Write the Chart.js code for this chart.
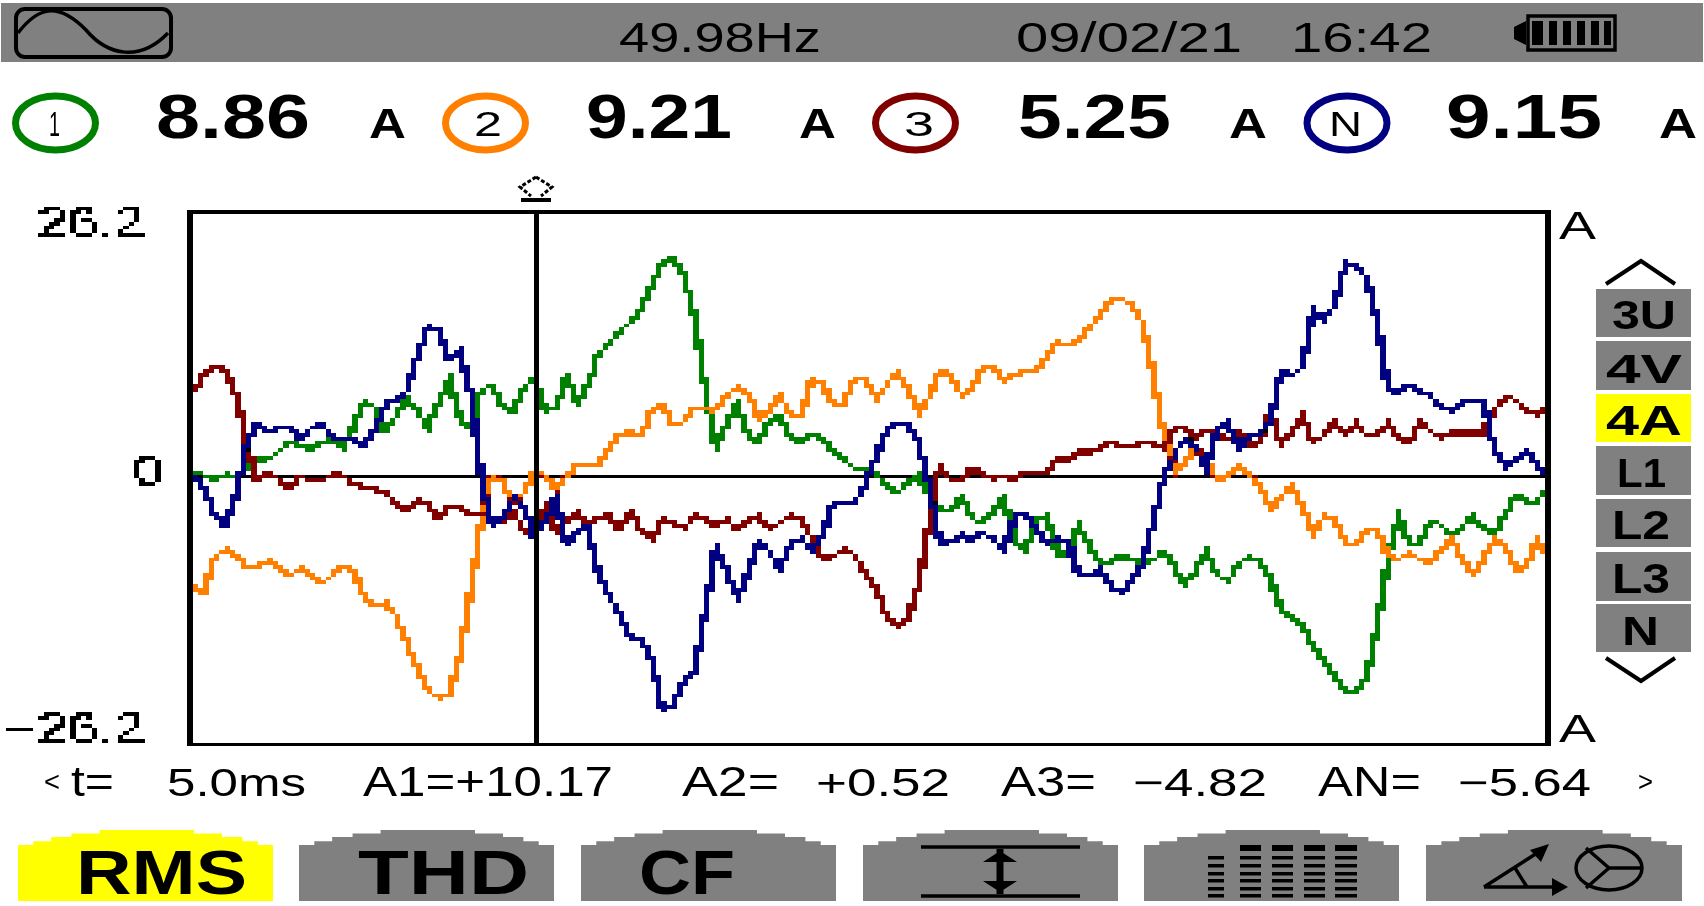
<!DOCTYPE html>
<html>
<head>
<meta charset="utf-8">
<title>Waveform 4A</title>
<script src="https://cdn.jsdelivr.net/npm/chart.js@4/dist/chart.umd.min.js"></script>
<style>
html, body { margin: 0; padding: 0; background: #fff; }
#page { position: relative; width: 1704px; height: 906px; overflow: hidden; }
#icons { position: absolute; left: 0; top: 0; }
/* the meter screen is 320x240, blown up without smoothing */
#scope { position: absolute; left: 1px; top: -1.3px; width: 1704px !important; height: 906px !important; image-rendering: pixelated; }
#topbar { position: absolute; left: 1px; top: 3px; width: 1702px; height: 59px; background: #808080; }
.tab, .btn { position: absolute; background: #808080; }
.btn { top: 830px; height: 71px; clip-path: polygon(0 21%, 6% 21%, 6% 16%, 13% 16%, 13% 10%, 21% 10%, 21% 5%, 32% 5%, 32% 0, 69% 0, 69% 5%, 80% 5%, 80% 10%, 88% 10%, 88% 16%, 94% 16%, 94% 21%, 100% 21%, 100% 100%, 0 100%); }
.on { background: #ffff00; }
.t { position: absolute; color: #000; font-family: "Liberation Sans", Arial, sans-serif; line-height: 1; white-space: pre; transform-origin: 0 0; }
</style>
</head>
<body>
<div id="page">
  <div id="topbar"></div>
  <div class="tab" style="left:1596px;top:289px;width:95px;height:48px"></div>
  <div class="tab" style="left:1596px;top:341px;width:95px;height:49px"></div>
  <div class="tab on" style="left:1596px;top:394px;width:95px;height:48px"></div>
  <div class="tab" style="left:1596px;top:446px;width:95px;height:49px"></div>
  <div class="tab" style="left:1596px;top:499px;width:95px;height:48px"></div>
  <div class="tab" style="left:1596px;top:552px;width:95px;height:49px"></div>
  <div class="tab" style="left:1596px;top:604px;width:95px;height:48px"></div>
  <div class="btn on" style="left:18px;width:255px"></div>
  <div class="btn" style="left:299px;width:255px"></div>
  <div class="btn" style="left:581px;width:255px"></div>
  <div class="btn" style="left:863px;width:255px"></div>
  <div class="btn" style="left:1144px;width:255px"></div>
  <div class="btn" style="left:1426px;width:256px"></div>
  <canvas id="scope" width="320" height="240"></canvas>
  <svg id="icons" width="1704" height="906" fill="none" stroke="#000">
    <!-- sine icon -->
    <rect x="16" y="9" width="155" height="48" rx="9" stroke-width="4"/>
    <path d="M18 33 C40 4 60 4 86 30 C108 56 140 62 168 33" stroke-width="3.5"/>
    <!-- battery -->
    <path d="M1528 16 H1615 V50 H1528 Z" stroke-width="3.5"/>
    <path d="M1514 27 L1526 21 V45 L1514 39 Z" fill="#000" stroke="none"/>
    <g fill="#000" stroke="none">
      <rect x="1532" y="21" width="11" height="24"/><rect x="1549" y="21" width="8" height="24"/>
      <rect x="1563" y="21" width="8" height="24"/><rect x="1577" y="21" width="8" height="24"/>
      <rect x="1591" y="21" width="8" height="24"/><rect x="1604" y="21" width="7" height="24"/>
    </g>
    <!-- channel rings -->
    <ellipse cx="55.5" cy="123" rx="40" ry="27" stroke="#008000" stroke-width="7"/>
    <ellipse cx="485.5" cy="123" rx="40" ry="27" stroke="#ff8000" stroke-width="7"/>
    <ellipse cx="915.5" cy="123" rx="40" ry="27" stroke="#800000" stroke-width="7"/>
    <ellipse cx="1347" cy="123" rx="40" ry="27" stroke="#000080" stroke-width="7"/>
    <!-- cursor marker -->
    <path d="M536 177 L552 187 L541 196 M536 177 L520 187 L531 196" stroke-width="3" stroke-dasharray="4 2"/>
    <rect x="521" y="198" width="30" height="4" fill="#000" stroke="none"/>
    <!-- tab arrows -->
    <path d="M1606 284 L1641 261 L1675 284" stroke-width="4"/>
    <path d="M1606 658 L1641 681 L1675 658" stroke-width="4"/>
    <!-- scale button -->
    <path d="M921 847 H1080 M921 896 H1080" stroke-width="3.5"/>
    <path d="M1000 849 V894" stroke-width="7"/>
    <path d="M1000 851 L1017 862 H983 Z M1000 892 L1017 881 H983 Z" fill="#000" stroke="none"/>
    <!-- bars button -->
    <g id="barsIcon" fill="#000" stroke="none"></g>
    <!-- phase button -->
    <path d="M1484 887 H1562 M1484 887 L1545 848 M1515 868 L1527 887" stroke-width="3.5"/>
    <path d="M1568 887 L1552 878 V896 Z M1549 844 L1530 850 L1541 862 Z" fill="#000" stroke="none"/>
    <ellipse cx="1609" cy="868" rx="33" ry="22" stroke-width="3.5"/>
    <path d="M1609 868 H1643 M1609 868 L1586 848 M1609 868 L1586 888" stroke-width="3.5"/>
  </svg>
</div>
<script>
// amps, one value every second column of the meter screen
const currentL1 = [
  0.7,0.35,-0.2,0.35,0.3,0.8,1.75,1.9,2.6,3.6,
  3.3,2.7,3.5,3.8,3.0,4.9,7.5,7.0,4.6,6.0,
  7.9,6.7,4.9,7.6,9.8,6.0,4.7,8.8,9.1,7.2,
  6.5,8.8,10.0,6.7,6.8,10.0,7.4,9.1,12.3,13.3,
  14.4,15.4,16.7,18.9,21.2,21.8,20.0,15.8,8.8,3.2,
  5.3,7.4,4.2,3.5,5.8,6.1,3.9,3.5,4.4,4.0,
  2.6,1.8,1.0,0.8,0.5,-0.7,-1.4,-0.5,0.35,-1.8,
  -3.1,-3.1,-1.8,-3.9,-4.4,-3.2,-1.9,-6.0,-7.2,-4.2,
  -3.7,-7.4,-7.4,-4.6,-6.5,-8.4,-8.2,-7.7,-7.9,-8.4,
  -8.1,-7.2,-8.8,-10.5,-9.1,-7.2,-9.5,-10.2,-8.4,-7.7,
  -8.1,-9.8,-13.0,-13.7,-14.4,-16.5,-18.1,-19.6,-20.9,-21.1,
  -19.6,-14.4,-8.1,-3.7,-6.3,-6.5,-4.2,-4.6,-5.6,-4.7,
  -3.7,-5.1,-5.3,-3.5,-1.6,-2.3,-2.3,-0.7
];
const currentL2 = [
  -10.4,-11.4,-7.7,-7.0,-7.5,-8.8,-8.8,-8.1,-8.8,-9.5,
  -8.9,-9.5,-10.4,-9.6,-8.6,-8.9,-11.6,-12.5,-12.2,-13.5,
  -16.1,-18.6,-20.9,-21.6,-21.2,-17.5,-11.2,-4.2,0.2,-0.2,
  -2.5,-1.4,0.7,0.35,-1.05,0.2,1.4,1.2,1.2,3.0,
  4.4,4.5,4.2,6.7,7.3,5.3,5.6,6.9,6.8,6.7,
  8.2,9.1,8.4,5.9,6.7,8.1,6.3,6.1,9.8,9.3,
  7.2,7.4,9.9,9.8,7.9,9.1,10.6,8.8,6.4,8.1,
  10.6,10.2,8.2,8.8,10.9,11.1,9.6,10.2,10.6,10.6,
  11.9,13.3,13.2,13.6,14.9,16.2,17.4,17.7,17.1,15.3,
  10.2,4.2,0.5,1.4,3.0,1.75,-0.25,0.35,1.2,0.3,
  -0.7,-3.0,-1.75,-0.7,-2.8,-5.4,-3.7,-4.0,-6.3,-6.6,
  -4.9,-5.1,-7.7,-8.0,-7.4,-7.9,-8.4,-7.0,-6.0,-8.1,
  -9.4,-7.9,-6.0,-6.5,-9.1,-8.8,-6.0,-7.7
];
const currentL3 = [
  8.4,10.2,11.1,10.7,8.4,3.5,-0.2,0.5,0,-1.05,
  0.2,-0.2,-0.3,0.35,0.35,-0.5,-0.9,-1.1,-1.4,-2.6,
  -3.2,-2.1,-2.5,-4.0,-2.7,-2.7,-3.6,-3.3,-4.2,-4.4,
  -3.3,-5.3,-5.4,-2.8,-5.3,-4.2,-3.3,-4.7,-3.9,-3.7,
  -5.1,-3.3,-5.1,-6.1,-4.1,-4.4,-4.9,-3.7,-4.1,-4.6,
  -4.0,-5.1,-4.0,-3.7,-4.9,-4.4,-3.7,-4.0,-5.8,-8.1,
  -7.7,-7.0,-7.5,-9.5,-10.9,-13.5,-14.7,-13.9,-10.4,-4.4,
  1.2,-0.2,-0.35,1.05,0.35,0,0.2,-0.1,0.7,0.35,
  0.35,1.8,1.8,2.6,2.6,2.9,3.6,3.1,3.1,3.6,
  3.4,3.0,4.9,5.1,3.9,4.7,4.6,3.8,4.6,3.2,
  3.5,6.6,3.3,4.6,6.2,3.5,4.2,5.6,4.2,5.5,
  4.2,4.2,5.5,3.9,3.5,5.5,4.6,4.0,4.5,4.5,
  4.5,4.5,6.7,8.1,7.7,6.7,6.3,7.2
];
const currentN = [
  0.35,-0.9,-3.5,-4.6,-1.75,3.2,5.4,4.6,4.9,5.1,
  3.9,4.9,5.4,4.0,4.0,3.9,3.2,4.9,7.2,7.8,
  8.6,11.9,14.9,14.7,11.6,12.5,8.4,0,-4.6,-3.7,
  -1.9,-2.8,-5.8,-4.2,-1.9,-6.5,-5.3,-4.7,-9.5,-11.6,
  -13.3,-15.6,-15.7,-17.9,-23.0,-22.3,-20.1,-18.9,-13.0,-6.8,
  -9.1,-11.8,-9.3,-6.3,-7.2,-8.9,-6.5,-5.8,-7.2,-5.6,
  -2.3,-2.5,-2.5,-0.7,2.1,4.6,5.5,5.5,3.5,-0.7,
  -6.3,-6.3,-5.4,-6.1,-5.3,-6.0,-7.0,-3.7,-3.4,-4.9,
  -6.3,-6.0,-6.3,-9.5,-9.6,-8.9,-10.7,-11.2,-10.0,-8.4,
  -4.2,0.35,2.5,4.0,3.0,1.05,4.9,5.6,3.0,4.0,
  4.4,5.6,10.6,10.2,10.9,16.7,15.6,17.0,21.2,20.9,
  19.8,15.4,8.8,8.4,9.2,8.6,8.1,7.1,6.7,7.4,
  7.7,7.4,2.8,1.2,1.9,2.6,1.2,0.35
];
const yMax = 26.2;
const yTickLabels = ['26.2', '0', '\u221226.2'];
// the meter prints its scale inside the frame, so the labels sit off the real values
const yTickPlaces = [24.8, 0.3, -24.8];
const sweepMs = 20;
const cursorMs = 5.06;

const tMs = currentL1.map((_, i) => i * sweepMs / (currentL1.length - 1));
const trace = (label, values, color) => ({
    label: label,
    data: values.map((v, i) => ({ x: tMs[i], y: v })),
    borderColor: color,
    borderWidth: 1.1,
    pointRadius: 0,
    clip: false
});

const palette = [[0, 0, 0], [0, 128, 0], [255, 128, 0], [128, 0, 0], [0, 0, 128]];

// frame, zero line, cursor, then snap everything to the screen's few solid colours
const scopeFrame = {
    id: 'scopeFrame',
    beforeDatasetsDraw(chart) {
        const ctx = chart.ctx;
        ctx.fillStyle = '#000';
        ctx.fillRect(35, Math.floor(chart.scales.y.getPixelForValue(0)) - 1, 256, 1);
    },
    afterDatasetsDraw(chart) {
        const ctx = chart.ctx;
        const col = Math.floor(chart.scales.x.getPixelForValue(cursorMs));
        ctx.fillStyle = '#000';
        ctx.fillRect(35, 56, 256, 1);
        ctx.fillRect(35, 197, 256, 1);
        ctx.fillRect(35, 56, 1, 142);
        ctx.fillRect(290, 56, 1, 142);
        ctx.fillRect(col, 56, 1, 142);
    },
    afterDraw(chart) {
        const ctx = chart.ctx;
        const img = ctx.getImageData(0, 0, chart.canvas.width, chart.canvas.height);
        const d = img.data;
        for (let i = 0; i < d.length; i += 4) {
            if (d[i + 3] < 105) { d[i + 3] = 0; continue; }
            let best = palette[0], bestDist = Infinity;
            palette.forEach(c => {
                const dist = (d[i] - c[0]) ** 2 + (d[i + 1] - c[1]) ** 2 + (d[i + 2] - c[2]) ** 2;
                if (dist < bestDist) { bestDist = dist; best = c; }
            });
            d[i] = best[0]; d[i + 1] = best[1]; d[i + 2] = best[2]; d[i + 3] = 255;
        }
        ctx.putImageData(img, 0, 0);
    }
};

new Chart(document.getElementById('scope'), {
    type: 'line',
    data: {
        datasets: [
            trace('N', currentN, '#000080'),
            trace('3', currentL3, '#800000'),
            trace('2', currentL2, '#ff8000'),
            trace('1', currentL1, '#008000')
        ]
    },
    options: {
        responsive: false,
        devicePixelRatio: 1,
        animation: false,
        events: [],
        layout: { padding: { top: 56.5, bottom: 42.5, right: 29.5, left: 0 } },
        plugins: { legend: { display: false }, tooltip: { enabled: false } },
        scales: {
            x: { type: 'linear', min: 0, max: sweepMs, display: false },
            y: {
                min: -yMax,
                max: yMax,
                afterFit: s => { s.width = 36.1; },
                afterBuildTicks: s => { s.ticks = yTickPlaces.map(v => ({ value: v })); },
                border: { display: false },
                grid: { display: false, drawTicks: false },
                ticks: {
                    autoSkip: false,
                    padding: 5.5,
                    color: '#000',
                    font: { family: '"Liberation Sans"', size: 10.5 },
                    // a wide space pushes the long labels left of the 0, as on the meter
                    callback: (v, i) => i === 1 ? yTickLabels[i] : yTickLabels[i] + '\u2004'
                }
            }
        }
    },
    plugins: [scopeFrame]
});

// text: string, left, right, top, bottom, weight
const screenText = [
    ['49.98Hz', 619, 821, 22, 53, 400],
    ['09/02/21', 1016, 1242, 22, 53, 400],
    ['16:42', 1291, 1432, 22, 53, 400],
    ['1', 49, 60, 112, 137, 400],
    ['8.86', 156, 310, 93, 138, 700],
    ['A', 369, 406, 108, 138, 700],
    ['2', 474, 502, 112, 137, 400],
    ['9.21', 586, 732, 93, 138, 700],
    ['A', 799, 836, 108, 138, 700],
    ['3', 904, 934, 112, 137, 400],
    ['5.25', 1018, 1171, 93, 138, 700],
    ['A', 1229, 1267, 108, 138, 700],
    ['N', 1329, 1362, 112, 137, 400],
    ['9.15', 1446, 1602, 93, 138, 700],
    ['A', 1659, 1697, 108, 138, 700],
    ['A', 1559, 1596, 211, 239, 400],
    ['A', 1559, 1596, 714, 742, 400],
    ['3U', 1612, 1676, 300, 329, 700],
    ['4V', 1606, 1682, 354, 383, 700],
    ['4A', 1606, 1682, 405, 435, 700],
    ['L1', 1617, 1666, 458, 487, 700],
    ['L2', 1612, 1670, 510, 539, 700],
    ['L3', 1612, 1670, 563, 593, 700],
    ['N', 1622, 1659, 616, 645, 700],
    ['<', 44, 60, 772, 792, 400],
    ['t=', 71, 114, 766, 796, 400],
    ['5.0ms', 167, 306, 768, 796, 400],
    ['A1=+10.17', 363, 613, 766, 796, 400],
    ['A2=', 682, 779, 766, 796, 400],
    ['+0.52', 816, 950, 768, 796, 400],
    ['A3=', 1001, 1096, 766, 796, 400],
    ['\u22124.82', 1133, 1267, 768, 796, 400],
    ['AN=', 1318, 1421, 766, 796, 400],
    ['\u22125.64', 1458, 1591, 768, 796, 400],
    ['>', 1638, 1653, 772, 792, 400],
    ['RMS', 76, 247, 849, 894, 700],
    ['THD', 358, 529, 849, 894, 700],
    ['CF', 639, 735, 849, 894, 700]
];
const page = document.getElementById('page');
screenText.forEach(([text, x0, x1, y0, y1, weight]) => {
    const el = document.createElement('div');
    const size = (y1 - y0) / 0.716;
    el.className = 't';
    el.textContent = text;
    el.style.fontSize = size + 'px';
    el.style.fontWeight = weight;
    el.style.left = x0 + 'px';
    el.style.top = (y1 - 0.8465 * size) + 'px';
    page.appendChild(el);
    el.style.transform = 'scaleX(' + ((x1 - x0) / el.getBoundingClientRect().width) + ')';
});

// harmonic bars on the fifth button
const barsIcon = document.getElementById('barsIcon');
const barCols = [[1208, 16], [1240, 21], [1272, 21], [1304, 21], [1335, 22]];
const barRows = [[845, 6], [856, 3.5], [864, 3.5], [872, 3.5], [879, 3.5], [887, 3.5], [894, 3.5]];
barCols.forEach(([x, w], c) => barRows.forEach(([y, h], r) => {
    if (c === 0 && r === 0) return;
    const b = document.createElementNS('http://www.w3.org/2000/svg', 'rect');
    b.setAttribute('x', x); b.setAttribute('y', y);
    b.setAttribute('width', w); b.setAttribute('height', h);
    barsIcon.appendChild(b);
}));
</script>
</body>
</html>
